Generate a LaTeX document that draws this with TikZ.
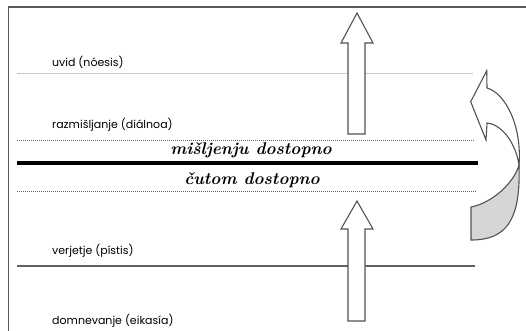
\documentclass[tikz,border=0pt]{standalone}
\usepackage{fontspec}
\newfontfamily\labfont{Poppins}
\definecolor{frm}{gray}{0.35}
\definecolor{lgray}{gray}{0.78}
\definecolor{dgray}{gray}{0.38}
\definecolor{arr}{gray}{0.32}
\definecolor{shade}{gray}{0.84}
\begin{document}
\begin{tikzpicture}[x=1pt,y=-1pt,
  lab/.style={anchor=west,inner sep=0pt,font=\labfont\fontsize{11}{13}\selectfont,text=black},
  ital/.style={inner sep=0pt,font=\fontsize{17}{19}\selectfont\bfseries\itshape},
  dotline/.style={dgray,line width=1pt,dash pattern=on 1pt off 1pt},
  arrowbox/.style={draw=arr,line width=1.1pt,fill=white,line join=miter}]
\useasboundingbox (0,0) rectangle (526,331);
% frame
\draw[frm,line width=1.4pt] (8.5,331) -- (8.5,7) -- (526,7);
% lines
\draw[lgray,line width=1pt] (17,74) -- (473,74);
\draw[dotline] (17,140) -- (475,140);
\draw[black,line width=4pt] (17,163) -- (478,163);
\draw[dotline] (17,191) -- (477,191);
\draw[dgray,line width=1.2pt] (17,266) -- (475,266);
% labels
\node[lab] (uvid) at (52,62) {uvid (nóesis)};
\node[lab] (razm) at (52,125) {razmišljanje (diálnoa)};
\node[lab] (verj) at (52,251) {verjetje (pístis)};
\node[lab] (domn) at (52,321) {domnevanje (eikasía)};
\node[ital] (misl) at (251,150) {mišljenju dostopno};
\node[ital] (cut) at (252,180) {čutom dostopno};
% straight arrows
\draw[arrowbox] (357,13) -- (373,43) -- (365,43) -- (365,134) -- (348,134) -- (348,43) -- (341,43) -- cycle;
\draw[arrowbox] (357,201) -- (373,229) -- (365,229) -- (365,321) -- (348,321) -- (348,229) -- (341,229) -- cycle;
% curved twisted arrow
\draw[arrowbox,fill=shade] (519,165) .. controls (514,183) and (492,203) .. (471,207) -- (471,240) .. controls (505,240) and (521,222) .. (519,165) -- cycle;
\draw[arrowbox] (486.7,70.7) -- (487,88) .. controls (505,93) and (522,125) .. (519,165) .. controls (515,140) and (500,124) .. (487,123) -- (486,140) -- (470.7,101.7) -- cycle;
\end{tikzpicture}
\end{document}
